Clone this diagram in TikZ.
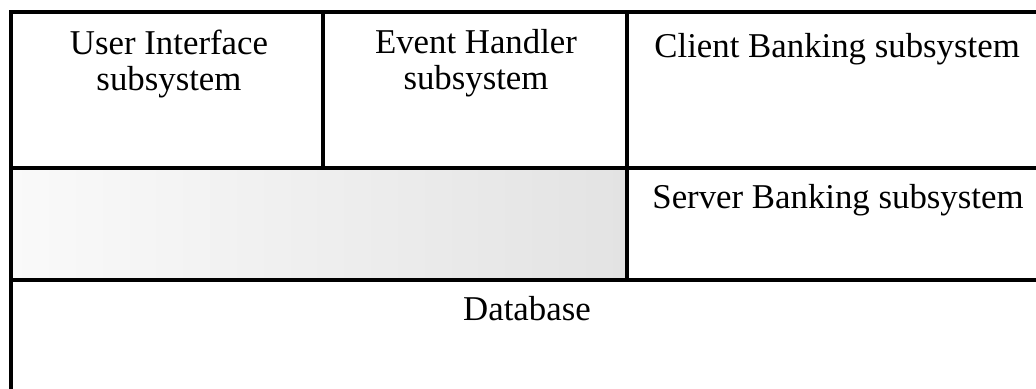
\documentclass[tikz,border=0pt]{standalone}
\usepackage{fontspec}
\setmainfont{Liberation Serif}
\begin{document}
\begin{tikzpicture}[x=0.5pt,y=-0.5pt,
  rule/.style={line width=1.7pt,line cap=rect},
  lbl/.style={inner sep=0pt,anchor=base,font=\fontsize{17.4}{18.2}\selectfont},
  lbll/.style={lbl,anchor=base west}]
\useasboundingbox (0,0) rectangle (1036,388);
% shaded cell
\shade[left color=black!2,right color=black!11] (11,168) rectangle (627,280);
% grid
\draw[rule] (1040,12) -- (11,12) -- (11,392);
\draw[rule] (11,168) -- (1040,168);
\draw[rule] (11,280) -- (1040,280);
\draw[rule] (323,12) -- (323,168);
\draw[rule] (627,12) -- (627,280);
% labels
\node[lbl] (ui) at (169,54) {\setlength{\tabcolsep}{0pt}\begin{tabular}[t]{c}User Interface\\subsystem\end{tabular}};
\node[lbl] (eh) at (476,53) {\setlength{\tabcolsep}{0pt}\begin{tabular}[t]{c}Event Handler\\subsystem\end{tabular}};
\node[lbll] (cb) at (654,57) {Client Banking subsystem};
\node[lbll] (sb) at (652,208) {Server Banking subsystem};
\node[lbl] (db) at (527,320) {Database};
\end{tikzpicture}
\end{document}
